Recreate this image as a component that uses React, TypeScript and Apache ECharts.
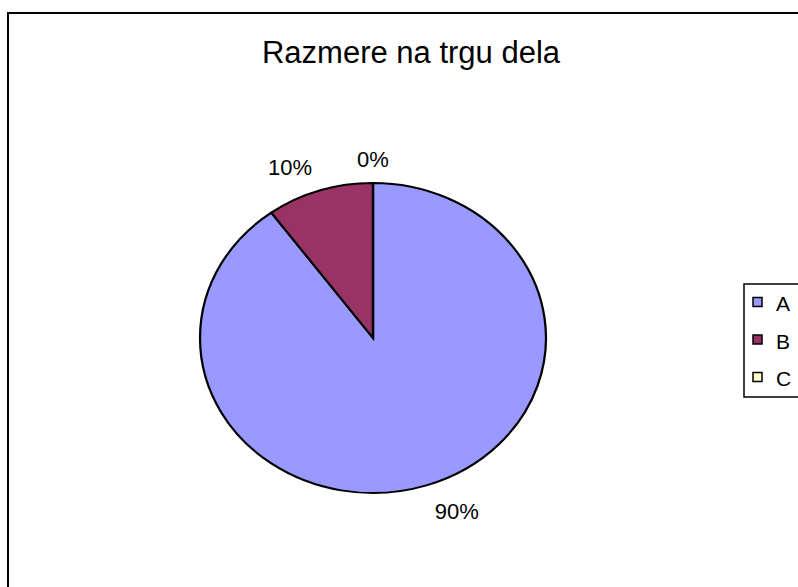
import React, { useEffect, useRef } from "react";
import * as echarts from "echarts";

const categories = ["A", "B", "C"];
const values = [90, 10, 0];
const percentLabels = ["90%", "10%", "0%"];
const sliceColors = ["#9999FF", "#993366", "#FFFFCC"];
const chartTitle = "Razmere na trgu dela";

const FONT = "'Liberation Sans', Arial, sans-serif";
const CX = 373;
const CY = 338;
const RX = 173;
const RY = 155;
const LABEL_GAP = 24;

// legend layout
const LEG_X = 744;
const LEG_Y = 284;
const LEG_H = 113;
const LEG_FIRST = 302;
const LEG_STEP = 37.5;

export default function App() {
  const ref = useRef<HTMLDivElement>(null);

  useEffect(() => {
    if (!ref.current) return;
    const chart = echarts.init(ref.current, undefined, { renderer: "svg" });
    const total = values.reduce((s, v) => s + v, 0);
    const cumulative: number[] = [];
    let acc = 0;
    values.forEach((v) => {
      cumulative.push(acc);
      acc += v;
    });

    const series = categories.map((name, k) => ({
      type: "custom",
      name,
      coordinateSystem: "none",
      data: [values[k]],
      itemStyle: { color: sliceColors[k] },
      renderItem: (params: any, api: any) => {
        const v = api.value(0);
        const start = -Math.PI / 2 + (cumulative[k] / total) * Math.PI * 2;
        const end = start + (v / total) * Math.PI * 2;
        const mid = (start + end) / 2;
        const ux = Math.cos(mid);
        const uy = Math.sin(mid);
        const align = ux < -0.1 ? "right" : ux > 0.1 ? "left" : "center";
        const gap = uy > 0 ? LABEL_GAP + 3 : LABEL_GAP;
        return {
          type: "group",
          children: [
            {
              type: "sector",
              x: CX,
              y: CY,
              scaleX: RX / RY,
              scaleY: 1,
              shape: { cx: 0, cy: 0, r: RY, r0: 0, startAngle: start, endAngle: end, clockwise: true },
              style: { fill: sliceColors[k], stroke: "#000", lineWidth: 2, strokeNoScale: true },
            },
            {
              type: "text",
              x: CX + (RX + gap) * ux,
              y: CY + (RY + gap) * uy,
              style: {
                text: percentLabels[k],
                fill: "#000",
                fontSize: 22,
                fontFamily: FONT,
                align,
                verticalAlign: "middle",
              },
            },
          ],
        };
      },
    }));

    const legendItems: any[] = [];
    categories.forEach((name, k) => {
      const cy = LEG_FIRST + k * LEG_STEP;
      legendItems.push({
        type: "rect",
        shape: { x: LEG_X + 9, y: cy - 4.5, width: 9, height: 9 },
        style: { fill: sliceColors[k], stroke: "#000", lineWidth: 1.5 },
        silent: true,
      });
      legendItems.push({
        type: "text",
        x: LEG_X + 32,
        y: cy + 1.5,
        style: {
          text: name,
          fill: "#000",
          fontSize: 21,
          fontFamily: FONT,
          align: "left",
          verticalAlign: "middle",
        },
        silent: true,
      });
    });

    chart.setOption({
      animation: false,
      backgroundColor: "#fff",
      graphic: [
        {
          type: "rect",
          shape: { x: 8, y: 13, width: 900, height: 700 },
          style: { fill: "none", stroke: "#000", lineWidth: 2 },
          silent: true,
        },
        {
          type: "text",
          x: 411,
          y: 52,
          style: {
            text: chartTitle,
            fill: "#000",
            fontSize: 31,
            fontFamily: FONT,
            align: "center",
            verticalAlign: "middle",
          },
        },
        {
          type: "rect",
          shape: { x: LEG_X, y: LEG_Y, width: 200, height: LEG_H },
          style: { fill: "#fff", stroke: "#000", lineWidth: 1.5 },
          silent: true,
        },
        ...legendItems,
      ],
      series,
    });
    return () => chart.dispose();
  }, []);

  return (
    <div
      ref={ref}
      style={{ position: "absolute", left: 0, top: 0, width: 798, height: 587 }}
    />
  );
}
